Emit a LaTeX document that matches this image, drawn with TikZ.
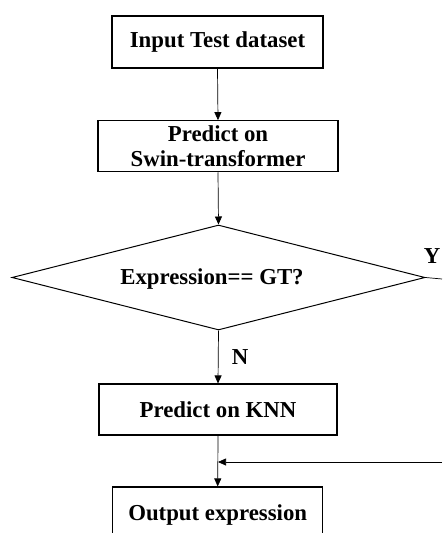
\documentclass[tikz,border=0pt]{standalone}
\usepackage{fontspec}
\setmainfont{Liberation Serif}
\usetikzlibrary{shapes.geometric,arrows.meta}
\begin{document}
\begin{tikzpicture}[x=1pt,y=-1pt,
  every node/.style={font=\fontsize{22.8}{25}\selectfont\bfseries},
  box/.style={draw, line width=1.1pt, rectangle, inner sep=0pt, align=center},
  dia/.style={draw, line width=1pt, diamond, inner sep=0pt, minimum width=413pt, minimum height=105pt},
  conn/.style={line width=0.7pt},
  arr/.style={conn, -{Triangle[length=8pt,width=7pt]}},
  lbl/.style={inner sep=0pt}]
\useasboundingbox (0,0) rectangle (442,533);
\clip (0,0) rectangle (442,533);
\node[box, minimum width=211pt, minimum height=52pt] (b1) at (217.5,42) {Input Test dataset};
\node[box, minimum width=240pt, minimum height=51pt] (b2) at (218,146.2) {Predict on\\Swin-transformer};
\node[dia] (d) at (218.5,277.5) {};
\node[lbl] (dt) at (212,279) {Expression== GT?};
\node[box, minimum width=238pt, minimum height=51pt] (b3) at (218,409.5) {Predict on KNN};
\node[box, minimum width=210pt, minimum height=56pt] (b4) at (217.7,515) {Output expression};
\node[lbl] (y) at (432,256) {Y};
\node[lbl] (n) at (240,357) {N};
\coordinate (ye) at (442,279);
\coordinate (ri) at (442,462);
\coordinate (j) at (218,462);
\draw[arr] (b1.south) -- (b2.north);
\draw[arr] (b2.south) -- (d.north);
\draw[arr] (d.south) -- (b3.north);
\draw[arr] (b3.south) -- (b4.north);
\draw[conn] (d.east) -- (ye);
\draw[arr] (ri) -- (j);
\end{tikzpicture}
\end{document}
